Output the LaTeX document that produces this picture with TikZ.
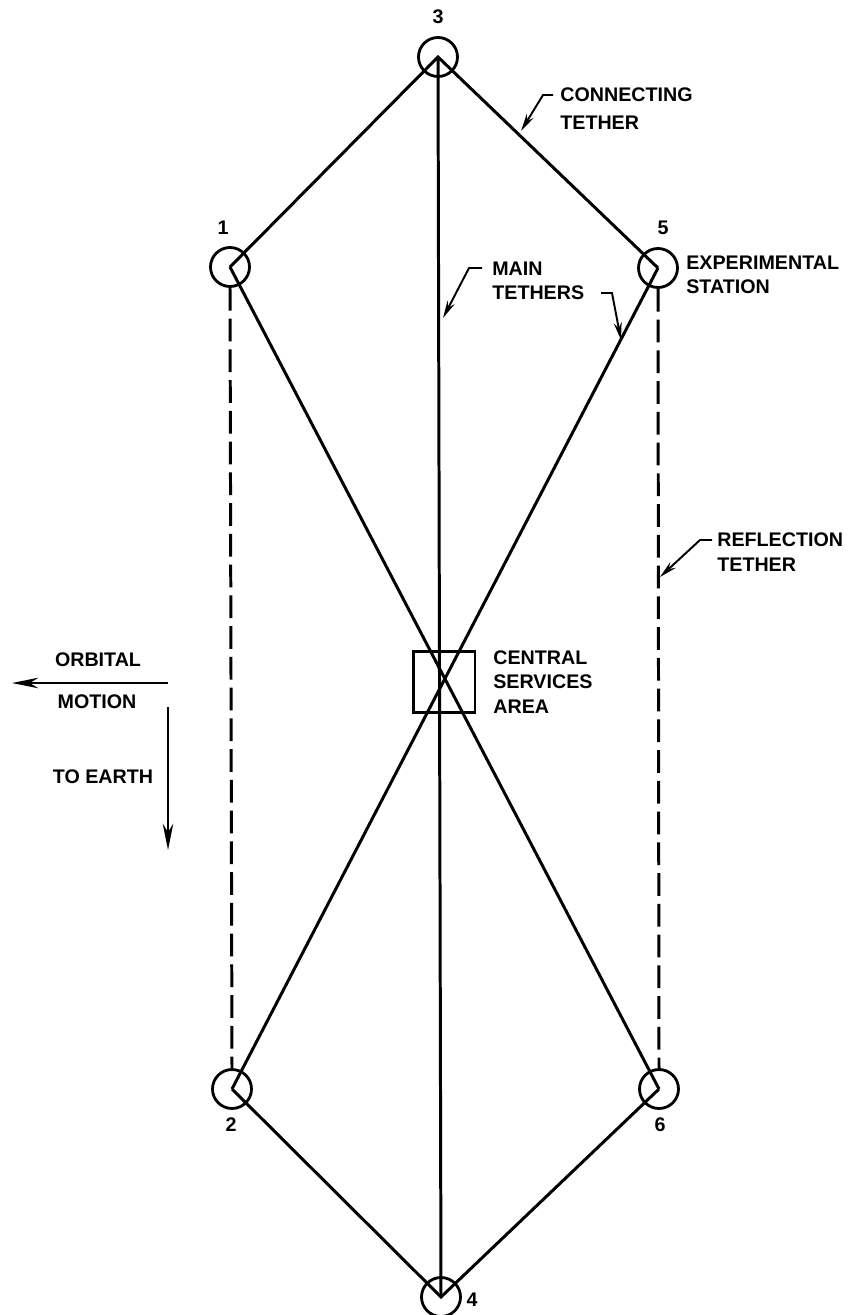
\documentclass[tikz,border=0pt]{standalone}
\usepackage{fontspec}
\setmainfont{Liberation Sans}[BoldFont={Liberation Sans Bold}]
\usetikzlibrary{arrows.meta}

\begin{document}
\begin{tikzpicture}[x=0.02cm, y=-0.02cm,
    font=\fontsize{11.2}{14}\selectfont\bfseries,
    station/.style={circle, draw, line width=1.6pt, minimum size=0.78cm, inner sep=0pt},
    tether/.style={line width=1.7pt},
    reftether/.style={line width=1.7pt, dash pattern=on 13pt off 4.5pt},
    leader/.style={line width=1.1pt, -{Stealth[length=10pt, width=4.5pt]}},
    motion/.style={line width=1.1pt, -{Stealth[length=15pt, width=6pt]}},
    lbl/.style={align=left, anchor=west, inner sep=0pt}]
  \useasboundingbox (0,0) rectangle (855,1315);
  % stations
  \node[station] (s3) at (438,57) {};
  \node[station] (s1) at (230,267) {};
  \node[station] (s5) at (658,268) {};
  \node[station] (s2) at (232,1089) {};
  \node[station] (s6) at (659,1089) {};
  \node[station] (s4) at (441,1297) {};
  \node (n3) at (438,17) {3};
  \node (n1) at (223,228) {1};
  \node (n5) at (663,228) {5};
  \node (n2) at (231,1125) {2};
  \node (n6) at (660,1125) {6};
  \node (n4) at (472,1300) {4};
  % central services box
  \node[draw, line width=1.7pt, minimum width=1.24cm, minimum height=1.22cm] (csa) at (444,682) {};
  % connecting and main tethers
  \draw[tether] (s1.center) -- (s3.center) -- (s5.center);
  \draw[tether] (s2.center) -- (s4.center) -- (s6.center);
  \draw[tether] (s3.center) -- (s4.center);
  \draw[tether] (s1.center) -- (s6.center);
  \draw[tether] (s5.center) -- (s2.center);
  % reflection tethers
  \draw[reftether] (s1.south) -- (s2.north);
  \draw[reftether] (s5.south) -- (s6.north);
  % labels
  \node[lbl, font=\fontsize{11.2}{16}\selectfont\bfseries] (conn) at (560,109) {CONNECTING\\TETHER};
  \node[lbl] (main) at (492,281) {MAIN\\TETHERS};
  \node[lbl] (exps) at (686,275) {EXPERIMENTAL\\STATION};
  \node[lbl] (refl) at (717,552) {REFLECTION\\TETHER};
  \node[lbl] (cent) at (493,682) {CENTRAL\\SERVICES\\AREA};
  \node (orb) at (98,660) {ORBITAL};
  \node (mot) at (97,702) {MOTION};
  \node (earth) at (103,777) {TO EARTH};
  % leaders
  \coordinate (c1) at (521,131);
  \coordinate (c2) at (443,318);
  \coordinate (c3) at (621,340);
  \coordinate (c4) at (660,577);
  \draw[leader] (553,95) -- (543,95) -- (c1);
  \draw[leader] (482,268) -- (469,268) -- (c2);
  \draw[leader] (601,293) -- (612,293) -- (c3);
  \draw[leader] (712,540) -- (700,540) -- (c4);
  % orbital motion and earth direction
  \coordinate (om0) at (168,683);
  \coordinate (om1) at (12,683);
  \coordinate (te0) at (168,707);
  \coordinate (te1) at (168,850);
  \draw[motion] (om0) -- (om1);
  \draw[motion] (te0) -- (te1);
\end{tikzpicture}
\end{document}
